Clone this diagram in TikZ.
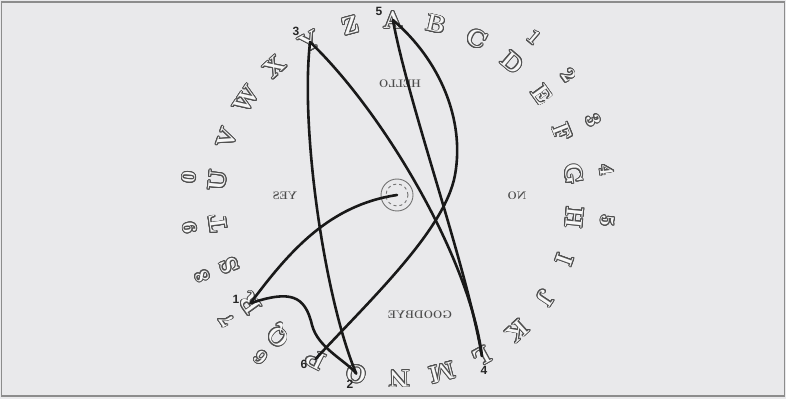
\documentclass[tikz,border=0pt]{standalone}
\usepackage{fontspec}
\usepackage{xcolor}
\usepackage{contour}
\contourlength{0.9pt}
\contournumber{20}
\usetikzlibrary{calc}
\newfontfamily\markfont{Liberation Sans}
\definecolor{boardbg}{RGB}{233,233,235}
\definecolor{glyphfill}{RGB}{247,247,247}
\definecolor{glyphline}{RGB}{80,80,80}

\begin{document}
\begin{tikzpicture}[x=1pt, y=1pt,
    letterbox/.style={inner sep=0pt, font=\fontsize{24}{24}\selectfont\bfseries, text=glyphfill},
    digitbox/.style={inner sep=0pt, font=\fontsize{20}{20}\selectfont\bfseries, text=glyphfill},
    wordbox/.style={inner sep=0pt, xscale=-1, font=\fontsize{11}{11}\selectfont\bfseries, text=black!70},
    markbox/.style={inner sep=0pt, font=\fontsize{12}{12}\selectfont\markfont\bfseries, text=black!85},
    wire/.style={line width=2.6pt, draw=black!90, line cap=round}
]
\fill[boardbg] (0,0) rectangle (786,399);
\useasboundingbox (0,0) rectangle (786,399);
\draw[black!45, line width=1.5pt] (1.5,3) rectangle (784.5,397);

% Ring of letters and digits
\coordinate (ctr) at (396,200);
\foreach \ch [count=\i from 0] in {A,B,C,D,E,F,G,H,I,J,K,L,M,N,O,P,Q,R,S,T,U,V,W,X,Y,Z} {
  \pgfmathsetmacro\ang{91-13.846*\i}
  \node[letterbox, rotate=\ang-90] (l\ch) at ($(ctr)+(\ang:179)$) {\contour{glyphline}{\ch}};
}
\foreach \d/\i in {1/3,2/4,3/5,4/6,5/7} {
  \pgfmathsetmacro\ang{91-13.846*\i}
  \node[digitbox, rotate=\ang-90] (d\d) at ($(ctr)+(\ang:212)$) {\contour{glyphline}{\d}};
}
\foreach \d/\i in {6/16,7/17,8/18,9/19,0/20} {
  \pgfmathsetmacro\ang{91-13.846*\i}
  \node[digitbox, rotate=\ang-90] (d\d) at ($(ctr)+(\ang:208)$) {\contour{glyphline}{\d}};
}

% Mirrored words
\node[wordbox] (hello) at (400,315) {HELLO};
\node[wordbox] (yes) at (285,203) {YES};
\node[wordbox] (no) at (517,203) {NO};
\node[wordbox] (bye) at (420,84) {GOODBYE};

% Planchette
\node[circle, draw=black!55, line width=0.9pt, minimum size=32pt, inner sep=0pt] (planch) at (397,204) {};
\node[circle, draw=black!55, dashed, line width=0.9pt, minimum size=22pt, inner sep=0pt] (planchin) at (planch.center) {};

% Step markers
\node[markbox] (m1) at (236,100) {1};
\node[markbox] (m2) at (350,15) {2};
\node[markbox] (m3) at (296,368) {3};
\node[markbox] (m4) at (484,29) {4};
\node[markbox] (m5) at (379,388) {5};
\node[markbox] (m6) at (304,35) {6};

% Path of the planchette
\draw[wire] (planch.center) .. controls (330,194) and (290,149) .. (lR.center);
\draw[wire] (lR.center) .. controls (290,109) and (305,104) .. (312,74) .. controls (318,51) and (345,39) .. (lO.center);
\draw[wire] (lO.center) .. controls (325,99) and (300,269) .. (lY.center);
\draw[wire] (lY.center) .. controls (385,285) and (470,139) .. (lL.center);
\draw[wire] (lL.center) .. controls (465,139) and (410,289) .. (lA.center);
\draw[wire] (lA.center) .. controls (440,339) and (465,279) .. (455,224) .. controls (445,169) and (370,99) .. (lP.center);

\end{tikzpicture}
\end{document}
